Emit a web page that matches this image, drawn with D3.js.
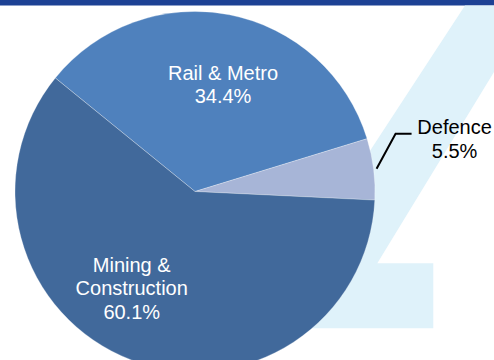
<!DOCTYPE html>
<html>
<head>
<meta charset="utf-8">
<script src="https://cdn.jsdelivr.net/npm/d3@7"></script>
<style>
  html, body { margin: 0; padding: 0; background: #ffffff; }
  svg { display: block; }
  text { font-family: "Liberation Sans", Arial, sans-serif; }
</style>
</head>
<body>
<svg id="chart" width="494" height="360"></svg>
<script>
// Revenue split by end market
const categories = ["Rail & Metro", "Defence", "Mining & Construction"];
const shares = [34.4, 5.5, 60.1];
const labelLines = [["Rail & Metro"], ["Defence"], ["Mining &", "Construction"]];

const colors = {
  "Rail & Metro": "#4f81bd",
  "Defence": "#a7b5d7",
  "Mining & Construction": "#41699b"
};

const W = 494, H = 360;
const cx = 195, cy = 191.5, R = 180;
const startDeg = -50.9;

const svg = d3.select("#chart");

// top rule
svg.append("rect")
  .attr("x", 0).attr("y", 0)
  .attr("width", W).attr("height", 5.5)
  .attr("fill", "#1d4194");

// pale backdrop emblem
const emblem = d3.path();
emblem.moveTo(465, 5.5);
emblem.lineTo(W, 5.5);
emblem.lineTo(W, 72);
emblem.lineTo(377.3, 263.3);
emblem.lineTo(433.3, 263.3);
emblem.lineTo(433.3, 328.3);
emblem.lineTo(254, 328.3);
emblem.closePath();
svg.append("path")
  .attr("d", emblem.toString())
  .attr("fill", "#dff2fa");

const data = categories.map((c, i) => ({ name: c, value: shares[i], lines: labelLines[i] }));

const pie = d3.pie()
  .sort(null)
  .value(d => d.value)
  .startAngle(startDeg * Math.PI / 180)
  .endAngle(startDeg * Math.PI / 180 + 2 * Math.PI);

const arc = d3.arc().innerRadius(0).outerRadius(R);
const labelArc = d3.arc().innerRadius(110).outerRadius(110);
const edgeArc = d3.arc().innerRadius(R + 3).outerRadius(R + 3);

const arcs = pie(data);

const g = svg.append("g").attr("transform", `translate(${cx},${cy})`);

g.selectAll("path.slice")
  .data(arcs)
  .join("path")
  .attr("class", "slice")
  .attr("d", arc)
  .attr("fill", d => colors[d.data.name])
  .attr("stroke", "rgba(255,255,255,0.35)")
  .attr("stroke-width", 0.8);

// label placement tweaks (px) relative to the label-arc centroid
const nudge = {
  "Rail & Metro": [7, 1],
  "Mining & Construction": [-24, -6]
};

const fontSize = 20, lineH = 23.5;

arcs.filter(d => d.data.name !== "Defence").forEach(d => {
  const [x0, y0] = labelArc.centroid(d);
  const [nx, ny] = nudge[d.data.name];
  const lines = d.data.lines.concat([d3.format(".1f")(d.data.value) + "%"]);
  const x = x0 + nx, y = y0 + ny;
  const top = y - (lines.length - 1) * lineH / 2 + 7;
  const t = g.append("text")
    .attr("text-anchor", "middle")
    .attr("fill", "#ffffff")
    .attr("font-size", fontSize);
  lines.forEach((s, i) => {
    t.append("tspan").attr("x", x).attr("y", top + i * lineH).text(s);
  });
});

// outside label with leader line for the small slice
arcs.filter(d => d.data.name === "Defence").forEach(d => {
  const [sx, sy] = edgeArc.centroid(d);
  const ex = sx + 19, ey = sy - 35;
  const hx = ex + 16;
  g.append("polyline")
    .attr("points", [[sx, sy], [ex, ey], [hx, ey]].map(p => p.join(",")).join(" "))
    .attr("fill", "none")
    .attr("stroke", "#000000")
    .attr("stroke-width", 2);
  const lines = d.data.lines.concat([d3.format(".1f")(d.data.value) + "%"]);
  const tx = hx + 43;
  const t = g.append("text")
    .attr("text-anchor", "middle")
    .attr("fill", "#000000")
    .attr("font-size", fontSize);
  lines.forEach((s, i) => {
    t.append("tspan").attr("x", tx).attr("y", ey + i * lineH + 0.5).text(s);
  });
});
</script>
</body>
</html>
